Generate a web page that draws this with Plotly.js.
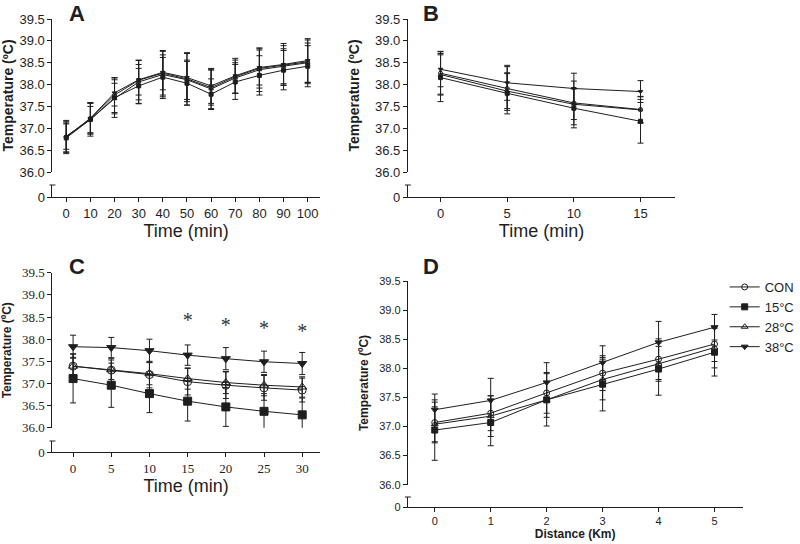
<!DOCTYPE html>
<html>
<head>
<meta charset="utf-8">
<script src="https://cdn.plot.ly/plotly-3.0.1.min.js"></script>
<style>
	body { margin: 0; background: #fff; }
	#chart { width: 800px; height: 544px; }
</style>
</head>
<body>
<div id="chart"></div>
<script>

// groups shared by every panel
const groups = [ 'CON', '15°C', '28°C', '38°C' ];
const symbols = [ 'circle-open', 'square', 'triangle-up-open', 'triangle-down' ];

// panel A - time (min)
const timeA = [ 0, 10, 20, 30, 40, 50, 60, 70, 80, 90, 100 ];
const conA = [ 36.80, 37.22, 37.76, 38.10, 38.26, 38.13, 37.93, 38.18, 38.37, 38.44, 38.52 ];
const c15A = [ 36.78, 37.20, 37.70, 37.97, 38.17, 38.03, 37.78, 38.06, 38.21, 38.33, 38.42 ];
const c28A = [ 36.82, 37.20, 37.68, 38.06, 38.23, 38.11, 37.90, 38.15, 38.34, 38.42, 38.50 ];
const c38A = [ 36.80, 37.23, 37.81, 38.11, 38.28, 38.16, 37.97, 38.20, 38.39, 38.46, 38.55 ];
const conSdA = [ 0.35, 0.35, 0.40, 0.45, 0.50, 0.60, 0.40, 0.38, 0.45, 0.45, 0.50 ];
const c15SdA = [ 0.32, 0.38, 0.45, 0.40, 0.45, 0.50, 0.35, 0.40, 0.45, 0.45, 0.47 ];
const c28SdA = [ 0.30, 0.30, 0.35, 0.50, 0.55, 0.45, 0.45, 0.35, 0.50, 0.40, 0.45 ];
const c38SdA = [ 0.38, 0.36, 0.30, 0.35, 0.40, 0.55, 0.40, 0.40, 0.40, 0.48, 0.50 ];

// panel B - time (min)
const timeB = [ 0, 5, 10, 15 ];
const conB = [ 38.26, 37.91, 37.58, 37.43 ];
const c15B = [ 38.16, 37.80, 37.46, 37.16 ];
const c28B = [ 38.23, 37.85, 37.55, 37.42 ];
const c38B = [ 38.35, 38.04, 37.91, 37.84 ];
const conSdB = [ 0.50, 0.50, 0.50, 0.30 ];
const c15SdB = [ 0.55, 0.47, 0.45, 0.50 ];
const c28SdB = [ 0.45, 0.40, 0.35, 0.30 ];
const c38SdB = [ 0.40, 0.40, 0.35, 0.25 ];

// panel C - time (min)
const timeC = [ 0, 5, 10, 15, 20, 25, 30 ];
const conC = [ 37.39, 37.30, 37.20, 37.04, 36.96, 36.90, 36.85 ];
const c15C = [ 37.11, 36.96, 36.77, 36.60, 36.47, 36.37, 36.29 ];
const c28C = [ 37.39, 37.31, 37.22, 37.11, 37.02, 36.96, 36.92 ];
const c38C = [ 37.83, 37.81, 37.74, 37.64, 37.56, 37.49, 37.45 ];
const conSdC = [ 0.28, 0.27, 0.30, 0.30, 0.30, 0.28, 0.27 ];
const c15SdC = [ 0.55, 0.50, 0.43, 0.45, 0.44, 0.40, 0.38 ];
const c28SdC = [ 0.20, 0.22, 0.25, 0.24, 0.25, 0.24, 0.23 ];
const c38SdC = [ 0.26, 0.23, 0.26, 0.23, 0.25, 0.24, 0.25 ];
const starTimeC = [ 15, 20, 25, 30 ];
const starTempC = [ 38.38, 38.28, 38.21, 38.13 ];

// panel D - distance (km)
const distD = [ 0, 1, 2, 3, 4, 5 ];
const conD = [ 37.07, 37.23, 37.58, 37.92, 38.16, 38.42 ];
const c15D = [ 36.94, 37.07, 37.46, 37.73, 37.99, 38.28 ];
const c28D = [ 37.04, 37.18, 37.46, 37.81, 38.08, 38.36 ];
const c38D = [ 37.29, 37.45, 37.76, 38.10, 38.45, 38.71 ];
const conSdD = [ 0.35, 0.30, 0.35, 0.30, 0.35, 0.30 ];
const c15SdD = [ 0.52, 0.40, 0.30, 0.46, 0.45, 0.41 ];
const c28SdD = [ 0.30, 0.35, 0.45, 0.35, 0.30, 0.35 ];
const c38SdD = [ 0.27, 0.38, 0.34, 0.29, 0.36, 0.22 ];

const W = 800, H = 544;
const ink = '#1e1e1e';
const sans = 'Liberation Sans, Arial, sans-serif';
const serif = 'Liberation Serif, Times New Roman, serif';

/**
 * Pixel helpers, page pixels to paper fractions.
 */
function px( x ) { return x / W; }
function py( y ) { return 1 - y / H; }

const panels = [
	{
		n: 1, letter: 'A', x: timeA, series: [ conA, c15A, c28A, c38A ], sds: [ conSdA, c15SdA, c28SdA, c38SdA ],
		left: 53, right: 323, top: 19, bottom: 172, lowTop: 185, lowBottom: 197,
		xRange: [ -5.7, 105 ], size: 4, legend: false,
		tickFont: { family: sans, size: 13, color: ink },
		xTitle: 'Time (min)', xTitleFont: { family: sans, size: 18, color: ink }, xStandoff: 3,
		yTitleFont: { family: sans, size: 14, color: ink, weight: 'bold' }, yStandoff: 8,
		letterPos: [ 68, 13 ]
	},
	{
		n: 2, letter: 'B', x: timeB, series: [ conB, c15B, c28B, c38B ], sds: [ conSdB, c15SdB, c28SdB, c38SdB ],
		left: 412, right: 682, top: 19, bottom: 172, lowTop: 185, lowBottom: 197,
		xRange: [ -2.45, 17.6 ], size: 4, legend: false,
		tickFont: { family: sans, size: 13, color: ink },
		xTitle: 'Time (min)', xTitleFont: { family: sans, size: 18, color: ink }, xStandoff: 3,
		yTitleFont: { family: sans, size: 14, color: ink, weight: 'bold' }, yStandoff: 12,
		letterPos: [ 425, 13 ]
	},
	{
		n: 3, letter: 'C', x: timeC, series: [ conC, c15C, c28C, c38C ], sds: [ conSdC, c15SdC, c28SdC, c38SdC ],
		left: 53, right: 323, top: 272.8, bottom: 427.7, lowTop: 441, lowBottom: 452,
		xRange: [ -2.7, 32.3 ], size: 8, legend: false,
		tickFont: { family: serif, size: 13, color: ink },
		xTitle: 'Time (min)', xTitleFont: { family: sans, size: 18, color: ink }, xStandoff: 1,
		yTitleFont: { family: sans, size: 12, color: ink, weight: 'bold' }, yStandoff: 12,
		letterPos: [ 68, 267 ]
	},
	{
		n: 4, letter: 'D', x: distD, series: [ conD, c15D, c28D, c38D ], sds: [ conSdD, c15SdD, c28SdD, c38SdD ],
		left: 412, right: 750, top: 281.3, bottom: 484.7, lowTop: 497, lowBottom: 507,
		xRange: [ -0.48, 5.5 ], size: 6, legend: true,
		tickFont: { family: sans, size: 11, color: ink },
		xTitle: 'Distance (Km)', xTitleFont: { family: sans, size: 12, color: ink, weight: 'bold' }, xStandoff: 3,
		yTitleFont: { family: sans, size: 12, color: ink, weight: 'bold' }, yStandoff: 8,
		letterPos: [ 425, 267 ]
	}
];

/**
 * Builds traces, axes and broken-axis marks for one panel.
 *
 * @param { object } p panel description
 * @param { Array } data trace list to fill
 * @param { object } layout layout to fill
 */
function addPanel( p, data, layout ) {

	const xId = p.n === 1 ? 'x' : 'x' + p.n;
	const yId = p.n === 1 ? 'y' : 'y' + p.n;
	const lowId = 'y' + ( p.n + 4 );

	for ( let i = 0; i < groups.length; i++ ) {

		data.push( {
			x: p.x,
			y: p.series[ i ],
			name: groups[ i ],
			xaxis: xId,
			yaxis: yId,
			type: 'scatter',
			mode: 'lines+markers',
			showlegend: p.legend,
			line: { color: ink, width: 1 },
			marker: { symbol: symbols[ i ], size: p.size, color: ink, line: { color: ink, width: 1 } },
			error_y: { type: 'data', array: p.sds[ i ], color: ink, thickness: 1, width: 3 }
		} );

	}

	// empty trace so the short "0" axis below the break gets drawn
	data.push( {
		x: [], y: [], xaxis: xId, yaxis: lowId,
		type: 'scatter', mode: 'markers', showlegend: false, hoverinfo: 'skip'
	} );

	layout[ 'xaxis' + ( p.n === 1 ? '' : p.n ) ] = {
		domain: [ px( p.left ), px( p.right ) ],
		anchor: lowId,
		range: p.xRange,
		tickvals: p.x,
		ticks: 'outside', ticklen: 4, tickcolor: ink,
		showline: true, linecolor: ink, linewidth: 1,
		showgrid: false, zeroline: false,
		tickfont: p.tickFont,
		title: { text: p.xTitle, font: p.xTitleFont, standoff: p.xStandoff }
	};

	layout[ 'yaxis' + ( p.n === 1 ? '' : p.n ) ] = {
		domain: [ py( p.bottom ), py( p.top ) ],
		anchor: xId,
		range: [ 36, 39.5 ],
		tick0: 36, dtick: 0.5, tickformat: '.1f',
		ticks: 'outside', ticklen: 4, tickcolor: ink,
		showline: true, linecolor: ink, linewidth: 1,
		showgrid: false, zeroline: false,
		tickfont: p.tickFont,
		title: { text: 'Temperature (ºC)', font: p.yTitleFont, standoff: p.yStandoff }
	};

	layout[ 'yaxis' + ( p.n + 4 ) ] = {
		domain: [ py( p.lowBottom ), py( p.lowTop ) ],
		anchor: xId,
		range: [ 0, 1 ],
		tickvals: [ 0 ],
		ticks: 'outside', ticklen: 4, tickcolor: ink,
		showline: true, linecolor: ink, linewidth: 1,
		showgrid: false, zeroline: false,
		tickfont: p.tickFont
	};

	// cap on top of the short lower segment
	const capHalf = 3 / ( p.right - p.left );
	layout.shapes.push( {
		type: 'line', xref: xId + ' domain', yref: lowId + ' domain',
		x0: -capHalf, x1: capHalf, y0: 1, y1: 1,
		line: { color: ink, width: 1 }
	} );

	layout.annotations.push( {
		xref: 'paper', yref: 'paper', x: px( p.letterPos[ 0 ] ), y: py( p.letterPos[ 1 ] ),
		xanchor: 'left', yanchor: 'middle', showarrow: false,
		text: '<b>' + p.letter + '</b>',
		font: { family: sans, size: 22, color: ink }
	} );

}

let data = [];
let layout = {
	width: W,
	height: H,
	margin: { l: 0, r: 0, t: 0, b: 0 },
	paper_bgcolor: '#ffffff',
	plot_bgcolor: 'rgba(0,0,0,0)',
	showlegend: true,
	legend: {
		x: px( 732 ), y: py( 272 ), xanchor: 'left', yanchor: 'top',
		font: { family: sans, size: 13, color: ink },
		bgcolor: 'rgba(0,0,0,0)', tracegroupgap: 0, itemwidth: 30
	},
	shapes: [],
	annotations: []
};

panels.forEach( p => addPanel( p, data, layout ) );

// significance marks in panel C
data.push( {
	x: starTimeC,
	y: starTempC,
	xaxis: 'x3',
	yaxis: 'y3',
	type: 'scatter',
	mode: 'text',
	text: starTimeC.map( () => '*' ),
	textposition: 'middle center',
	textfont: { family: serif, size: 20, color: '#333' },
	showlegend: false,
	hoverinfo: 'skip'
} );

Plotly.newPlot( 'chart', data, layout, { displayModeBar: false, staticPlot: true } );

</script>
</body>
</html>
